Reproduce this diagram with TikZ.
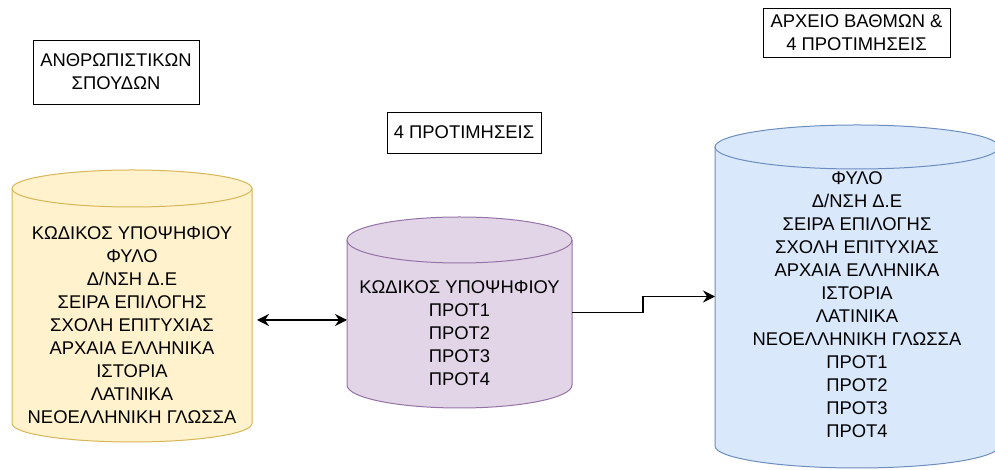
\documentclass[tikz,border=0pt]{standalone}
\usepackage{fontspec}
\setmainfont{Liberation Sans}
\usepackage{tikz}
\usetikzlibrary{arrows.meta,positioning,calc}
\definecolor{ylwfill}{HTML}{FFF2CC}
\definecolor{ylwline}{HTML}{D6B656}
\definecolor{vltfill}{HTML}{E1D5E7}
\definecolor{vltline}{HTML}{9673A6}
\definecolor{blufill}{HTML}{DAE8FC}
\definecolor{bluline}{HTML}{6C8EBF}
\newcommand{\dbfont}{\fontsize{18.4}{23}\selectfont}
% cylinder round a named node: node, x radius, y radius, colour prefix
\newcommand{\drawdb}[4]{%
  \path[cylbody=#4] (#1.north west) -- (#1.south west)
    arc[start angle=180,end angle=360,x radius=#2,y radius=#3]
    -- (#1.north east)
    arc[start angle=0,end angle=180,x radius=#2,y radius=#3] -- cycle;
  \draw[draw=#4line,line width=1pt] (#1.north west)
    arc[start angle=180,end angle=360,x radius=#2,y radius=#3];
}
\tikzset{
  dbarea/.style={inner sep=0pt,outer sep=0pt,minimum width=#1},
  cylbody/.style={draw=#1line,fill=#1fill,line width=1pt},
  dbtext/.style={align=center,font=\dbfont,inner sep=0pt},
  lbl/.style={draw=black,fill=white,line width=0.9pt,align=center,font=\dbfont,inner sep=2pt},
  link/.style={-{Stealth[length=12pt,width=12pt,inset=4pt]},line width=1.5pt},
  link2/.style={{Stealth[length=12pt,width=12pt,inset=4pt]}-{Stealth[length=12pt,width=12pt,inset=4pt]},line width=1.5pt},
}
\begin{document}
\begin{tikzpicture}[x=1pt,y=1pt]
  \useasboundingbox (0,0) rectangle (995,470);
  % databases
  \node[dbarea=240,minimum height=235] (anthDB) at (132,164) {};
  \node[dbarea=225,minimum height=145] (prefDB) at (459.5,157.5) {};
  \node[dbarea=284,minimum height=299] (archDB) at (857,173.5) {};
  \drawdb{anthDB}{120}{18.5}{ylw}
  \drawdb{prefDB}{112.5}{23}{vlt}
  \drawdb{archDB}{142}{22}{blu}
  \node[dbtext] (anthTxt) at (132,145) {ΚΩΔΙΚΟΣ ΥΠΟΨΗΦΙΟΥ\\ ΦΥΛΟ\\ Δ/ΝΣΗ Δ.Ε\\ ΣΕΙΡΑ ΕΠΙΛΟΓΗΣ\\ ΣΧΟΛΗ ΕΠΙΤΥΧΙΑΣ\\ ΑΡΧΑΙΑ ΕΛΛΗΝΙΚΑ\\ ΙΣΤΟΡΙΑ\\ ΛΑΤΙΝΙΚΑ\\ ΝΕΟΕΛΛΗΝΙΚΗ ΓΛΩΣΣΑ};
  \node[dbtext] (prefTxt) at (459.5,137) {ΚΩΔΙΚΟΣ ΥΠΟΨΗΦΙΟΥ\\ ΠΡΟΤ1\\ ΠΡΟΤ2\\ ΠΡΟΤ3\\ ΠΡΟΤ4};
  \node[dbtext] (archTxt) at (857,165) {ΦΥΛΟ\\ Δ/ΝΣΗ Δ.Ε\\ ΣΕΙΡΑ ΕΠΙΛΟΓΗΣ\\ ΣΧΟΛΗ ΕΠΙΤΥΧΙΑΣ\\ ΑΡΧΑΙΑ ΕΛΛΗΝΙΚΑ\\ ΙΣΤΟΡΙΑ\\ ΛΑΤΙΝΙΚΑ\\ ΝΕΟΕΛΛΗΝΙΚΗ ΓΛΩΣΣΑ\\ ΠΡΟΤ1\\ ΠΡΟΤ2\\ ΠΡΟΤ3\\ ΠΡΟΤ4};
  % titles
  \node[lbl,minimum width=166,minimum height=64] (anthLbl) at (116,398) {ΑΝΘΡΩΠΙΣΤΙΚΩΝ\\ ΣΠΟΥΔΩΝ};
  \node[lbl,minimum width=154,minimum height=41] (prefLbl) at (464,337.5) {4 ΠΡΟΤΙΜΗΣΕΙΣ};
  \node[lbl,minimum width=187,minimum height=49] (archLbl) at (856.5,437.5) {ΑΡΧΕΙΟ ΒΑΘΜΩΝ \&\\ 4 ΠΡΟΤΙΜΗΣΕΙΣ};
  % links
  \draw[link2,shorten <=5pt] (anthDB.east |- 0,150) -- (prefDB.west |- 0,150);
  \draw[link] (prefDB.east) -- ++(71,0) |- (archDB.west);
\end{tikzpicture}
\end{document}
